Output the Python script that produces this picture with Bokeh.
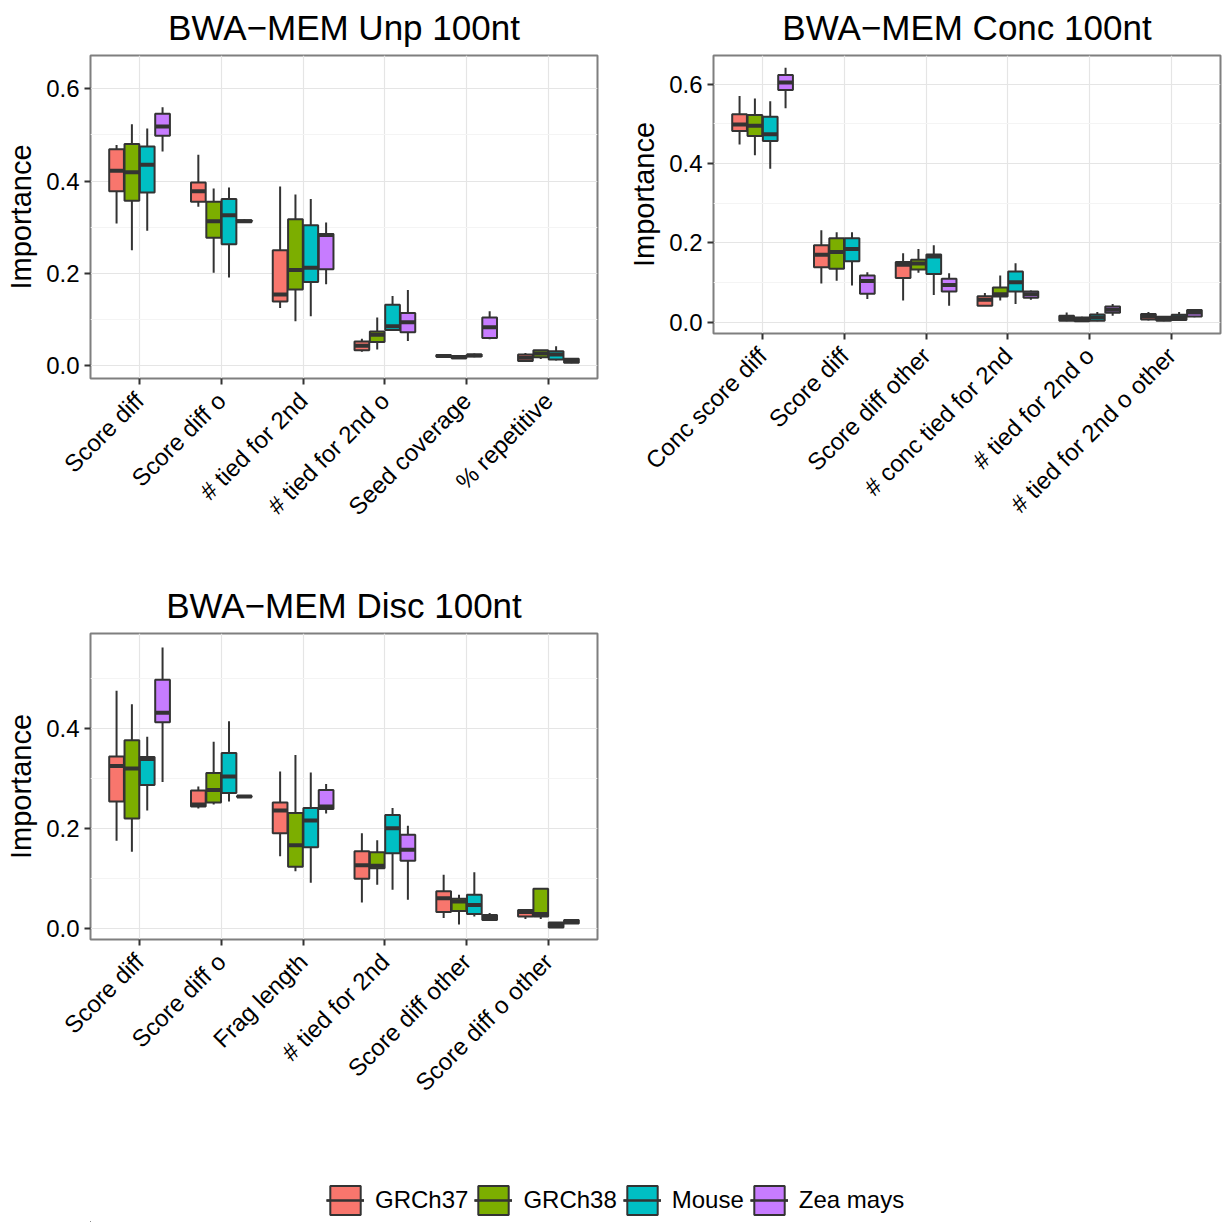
import math
from bokeh.plotting import figure
from bokeh.layouts import column, row
from bokeh.models import (ColumnDataSource, FixedTicker, Range1d, Legend, LegendItem,
                          PrintfTickFormatter)
from bokeh.embed import file_html
from bokeh.resources import INLINE

FONT = "Liberation Sans"
GROUPS = ["GRCh37", "GRCh38", "Mouse", "Zea mays"]
COLORS = ["#F8766D", "#7CAE00", "#00BFC4", "#C77CFF"]

# ---------------- data: (whisker low, Q1, median, Q3, whisker high) ----------------
UNP_FEATURES = ["Score diff", "Score diff o", "# tied for 2nd", "# tied for 2nd o",
                "Seed coverage", "% repetitive"]
UNP_GRCH37 = [(0.308, 0.378, 0.422, 0.469, 0.478), (0.344, 0.355, 0.378, 0.397, 0.457),
              (0.125, 0.139, 0.154, 0.250, 0.388), (0.030, 0.033, 0.043, 0.052, 0.058),
              (0.017, 0.019, 0.021, 0.023, 0.025), (0.008, 0.010, 0.017, 0.024, 0.027)]
UNP_GRCH38 = [(0.250, 0.357, 0.419, 0.480, 0.523), (0.201, 0.277, 0.313, 0.355, 0.384),
              (0.096, 0.165, 0.207, 0.317, 0.371), (0.035, 0.051, 0.067, 0.074, 0.104),
              (0.014, 0.016, 0.018, 0.021, 0.023), (0.014, 0.018, 0.026, 0.033, 0.034)]
UNP_MOUSE = [(0.292, 0.375, 0.435, 0.475, 0.514), (0.191, 0.263, 0.326, 0.361, 0.386),
             (0.107, 0.181, 0.212, 0.304, 0.361), (0.076, 0.077, 0.085, 0.132, 0.151),
             (0.018, 0.020, 0.022, 0.024, 0.026), (0.011, 0.013, 0.024, 0.031, 0.042)]
UNP_ZEA = [(0.464, 0.498, 0.518, 0.546, 0.560), (0.309, 0.311, 0.313, 0.315, 0.317),
           (0.176, 0.209, 0.283, 0.285, 0.310), (0.053, 0.072, 0.094, 0.114, 0.164),
           (0.057, 0.060, 0.083, 0.104, 0.118), (0.005, 0.006, 0.010, 0.015, 0.016)]

CONC_FEATURES = ["Conc score diff", "Score diff", "Score diff other", "# conc tied for 2nd",
                 "# tied for 2nd o", "# tied for 2nd o other"]
CONC_GRCH37 = [(0.448, 0.482, 0.498, 0.524, 0.570), (0.098, 0.139, 0.170, 0.194, 0.232),
               (0.055, 0.112, 0.145, 0.152, 0.174), (0.041, 0.042, 0.057, 0.066, 0.074),
               (0.003, 0.004, 0.011, 0.017, 0.025), (0.005, 0.007, 0.015, 0.021, 0.026)]
CONC_GRCH38 = [(0.421, 0.469, 0.495, 0.522, 0.564), (0.105, 0.135, 0.177, 0.212, 0.227),
               (0.125, 0.133, 0.148, 0.158, 0.185), (0.055, 0.065, 0.071, 0.088, 0.118),
               (0.002, 0.003, 0.007, 0.012, 0.014), (0.003, 0.004, 0.009, 0.014, 0.016)]
CONC_MOUSE = [(0.387, 0.457, 0.474, 0.518, 0.557), (0.093, 0.154, 0.185, 0.212, 0.227),
              (0.069, 0.122, 0.166, 0.171, 0.194), (0.046, 0.078, 0.101, 0.128, 0.149),
              (0.003, 0.004, 0.012, 0.020, 0.026), (0.004, 0.006, 0.013, 0.019, 0.026)]
CONC_ZEA = [(0.539, 0.585, 0.604, 0.623, 0.641), (0.059, 0.072, 0.104, 0.118, 0.126),
            (0.042, 0.078, 0.094, 0.110, 0.124), (0.057, 0.062, 0.071, 0.078, 0.080),
            (0.017, 0.024, 0.032, 0.040, 0.046), (0.013, 0.015, 0.025, 0.031, 0.033)]

DISC_FEATURES = ["Score diff", "Score diff o", "Frag length", "# tied for 2nd",
                 "Score diff other", "Score diff o other"]
DISC_GRCH37 = [(0.176, 0.254, 0.325, 0.344, 0.475), (0.240, 0.244, 0.248, 0.276, 0.284),
               (0.145, 0.191, 0.236, 0.252, 0.314), (0.053, 0.100, 0.127, 0.155, 0.191),
               (0.022, 0.034, 0.061, 0.075, 0.108), (0.020, 0.025, 0.034, 0.038, 0.040)]
DISC_GRCH38 = [(0.154, 0.220, 0.320, 0.376, 0.448), (0.248, 0.252, 0.277, 0.311, 0.373),
               (0.115, 0.124, 0.167, 0.231, 0.347), (0.088, 0.121, 0.126, 0.153, 0.177),
               (0.009, 0.036, 0.055, 0.060, 0.068), (0.020, 0.025, 0.030, 0.080, 0.080)]
DISC_MOUSE = [(0.236, 0.287, 0.339, 0.343, 0.383), (0.254, 0.271, 0.304, 0.351, 0.414),
              (0.092, 0.163, 0.216, 0.241, 0.312), (0.078, 0.151, 0.201, 0.227, 0.241),
              (0.025, 0.030, 0.048, 0.068, 0.113), (0.002, 0.003, 0.008, 0.013, 0.014)]
DISC_ZEA = [(0.293, 0.412, 0.431, 0.497, 0.561), (0.262, 0.263, 0.264, 0.265, 0.266),
            (0.230, 0.239, 0.244, 0.277, 0.289), (0.058, 0.136, 0.158, 0.188, 0.206),
            (0.017, 0.018, 0.022, 0.028, 0.032), (0.010, 0.011, 0.014, 0.018, 0.019)]

Y_TICKS_A = [0.0, 0.2, 0.4, 0.6]
Y_TICKS_B = [0.0, 0.2, 0.4]
Y_MINOR = [0.1, 0.3, 0.5]

# ---------------- styling ----------------
DODGE = [-0.28125, -0.09375, 0.09375, 0.28125]
BOX_W = 0.18
OUTLINE = "#333333"


def make_panel(title, features, groups_stats, y_lo, y_hi, yticks,
               width, height, mb_left, mb_right, mb_top, mb_bottom):
    n = len(features)
    p = figure(width=width, height=height, x_range=Range1d(0.4, n + 0.6),
               y_range=Range1d(y_lo, y_hi), output_backend="svg", toolbar_location=None,
               min_border_left=mb_left, min_border_right=mb_right,
               min_border_top=mb_top, min_border_bottom=mb_bottom)
    p.title.text = title
    p.title.align = "center"
    p.title.vertical_align = "top"
    p.title.text_font = FONT
    p.title.text_font_size = "35px"
    p.title.text_font_style = "normal"
    p.title.text_color = "black"
    p.title.standoff = 14

    p.outline_line_color = "#7f7f7f"
    p.outline_line_width = 2
    p.background_fill_color = "white"

    # grids
    p.xgrid.ticker = FixedTicker(ticks=list(range(1, n + 1)))
    p.xgrid.grid_line_color = "#e5e5e5"
    p.xgrid.grid_line_width = 1.2
    p.ygrid.ticker = FixedTicker(ticks=yticks, minor_ticks=Y_MINOR)
    p.ygrid.grid_line_color = "#e5e5e5"
    p.ygrid.grid_line_width = 1.2
    p.ygrid.minor_grid_line_color = "#f4f4f4"
    p.ygrid.minor_grid_line_width = 1.2

    # axes
    p.xaxis.ticker = FixedTicker(ticks=list(range(1, n + 1)))
    p.xaxis.major_label_overrides = {i + 1: f for i, f in enumerate(features)}
    p.xaxis.major_label_orientation = math.pi / 4
    p.yaxis.ticker = FixedTicker(ticks=yticks)
    p.yaxis.formatter = PrintfTickFormatter(format="%.1f")
    p.yaxis.axis_label = "Importance"
    p.yaxis.axis_label_text_font = FONT
    p.yaxis.axis_label_text_font_size = "29px"
    p.yaxis.axis_label_text_font_style = "normal"
    p.yaxis.axis_label_text_color = "black"
    p.yaxis.axis_label_standoff = 6
    for ax in (p.xaxis[0], p.yaxis[0]):
        ax.axis_line_color = None
        ax.major_tick_line_color = OUTLINE
        ax.major_tick_line_width = 2
        ax.major_tick_in = 0
        ax.major_tick_out = 6
        ax.minor_tick_line_color = None
        ax.major_label_text_font = FONT
        ax.major_label_text_font_size = "24px"
        ax.major_label_text_color = "black"
        ax.major_label_standoff = 5
    p.xaxis.major_label_standoff = 12

    for gi, stats in enumerate(groups_stats):
        xs = [i + 1 + DODGE[gi] for i in range(n)]
        src = ColumnDataSource(dict(
            x=xs,
            xl=[x - BOX_W / 2 for x in xs],
            xr=[x + BOX_W / 2 for x in xs],
            low=[s[0] for s in stats], q1=[s[1] for s in stats], med=[s[2] for s in stats],
            q3=[s[3] for s in stats], high=[s[4] for s in stats]))
        p.segment(x0="x", y0="low", x1="x", y1="high", source=src,
                  line_color=OUTLINE, line_width=2)
        p.vbar(x="x", width=BOX_W, bottom="q1", top="q3", source=src,
               fill_color=COLORS[gi], line_color=OUTLINE, line_width=2)
        p.segment(x0="xl", y0="med", x1="xr", y1="med", source=src,
                  line_color=OUTLINE, line_width=4)
    return p


f1 = make_panel("BWA\u2212MEM Unp 100nt", UNP_FEATURES,
                [UNP_GRCH37, UNP_GRCH38, UNP_MOUSE, UNP_ZEA],
                -0.028, 0.672, Y_TICKS_A, 612, 577, 90, 15, 55, 199)
f2 = make_panel("BWA\u2212MEM Conc 100nt", CONC_FEATURES,
                [CONC_GRCH37, CONC_GRCH38, CONC_MOUSE, CONC_ZEA],
                -0.028, 0.672, Y_TICKS_A, 610, 532, 101, 2, 55, 199)
f3 = make_panel("BWA\u2212MEM Disc 100nt", DISC_FEATURES,
                [DISC_GRCH37, DISC_GRCH38, DISC_MOUSE, DISC_ZEA],
                -0.021, 0.589, Y_TICKS_B, 612, 583, 90, 15, 56, 221)

# ---------------- legend strip ----------------
fl = figure(width=1222, height=62, x_range=Range1d(0, 1), y_range=Range1d(0, 1),
            output_backend="svg", toolbar_location=None,
            min_border_left=0, min_border_right=0, min_border_top=0, min_border_bottom=0)
fl.axis.visible = False
fl.grid.visible = False
fl.outline_line_color = None
items = []
for name, color in zip(GROUPS, COLORS):
    # key-only renderers: their single datum lies outside the visible range
    src = ColumnDataSource(dict(x=[-5.0], y0=[-5.0], y1=[-4.0], x0=[-5.0], x1=[-4.0]))
    rw = fl.vspan(x="x", source=src, line_color=OUTLINE, line_width=2)
    rb = fl.vbar(x="x", width=0.1, bottom="y0", top="y1", source=src,
                 fill_color=color, line_color=OUTLINE, line_width=2)
    rm = fl.segment(x0="x0", y0="y0", x1="x1", y1="y0", source=src,
                    line_color=OUTLINE, line_width=2.5)
    items.append(LegendItem(label=name, renderers=[rw, rb, rm]))
leg = Legend(items=items, orientation="horizontal", location=(236, 4),
             glyph_width=38, glyph_height=36, label_standoff=11, spacing=6,
             padding=0, margin=0, border_line_color=None, background_fill_alpha=0,
             label_text_font=FONT, label_text_font_size="24px", label_text_color="black")
fl.add_layout(leg, "center")

layout = column(row(f1, f2), f3, fl)

open("out.html", "w").write(file_html(layout, INLINE))
